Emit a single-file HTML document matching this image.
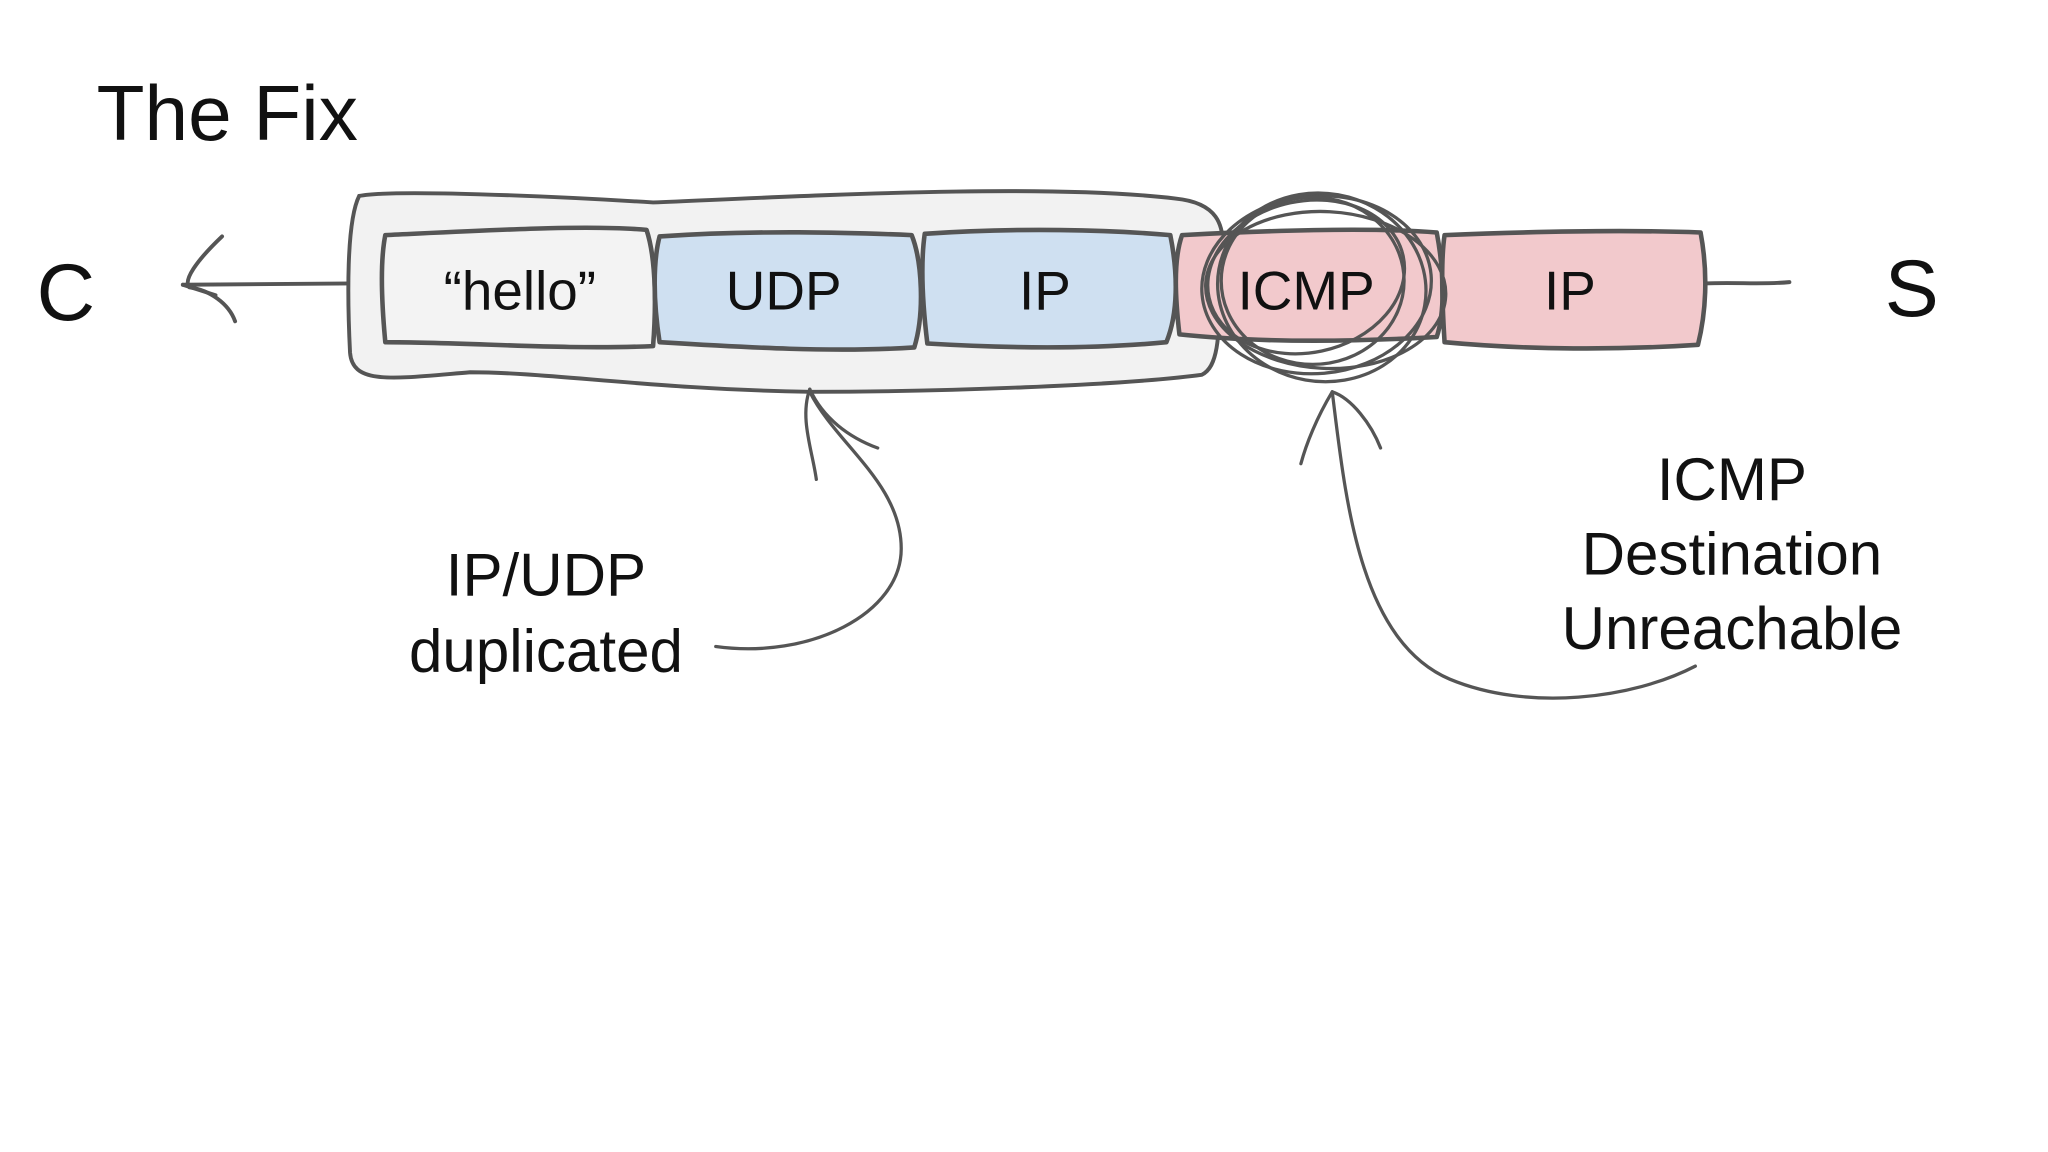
<!DOCTYPE html>
<html><head><meta charset="utf-8"><style>
html,body{margin:0;padding:0;background:#fff;}
svg{display:block}
text{font-family:"Liberation Sans",Arial,sans-serif;fill:#111}
</style></head><body>
<svg width="2048" height="1152" viewBox="0 0 1568 882" xmlns="http://www.w3.org/2000/svg" font-family="Liberation Sans, Arial, sans-serif">
<rect width="1568" height="882" fill="#fff"/>
<text x="74" y="107" font-size="60">The Fix</text>
<text x="28" y="245" font-size="62">C</text>
<text x="1443" y="242" font-size="62">S</text>
<g fill="none" stroke="#555" stroke-width="3" stroke-linecap="round" stroke-linejoin="round">
<path d="M140,218 L270,217"/>
<path d="M170,181 C150,200 140,215 145,220 C160,222 175,232 180,246"/>
<path d="M140,218 L165,226"/>
<path d="M1305,217 C1330,216 1350,218 1370,216"/>
</g>
<path d="M275,150 C300,145 420,150 500,155 C620,150 800,140 900,152 C930,155 940,170 935,200 C933,250 935,280 920,287 C860,295 720,300 620,300 C500,298 420,285 360,285 C300,290 270,295 268,270 C266,230 265,170 275,150 Z" fill="#f2f2f2" stroke="#555" stroke-width="3"/>
<g stroke="#555" stroke-width="3.5" stroke-linejoin="round">
<path d="M295,180 C380,176 450,172 495,176 C503,200 502,240 500,265 C430,268 360,262 295,262 C292,230 291,200 295,180 Z" fill="#f3f3f3"/>
<path d="M505,181 C580,176 650,178 698,180 C706,200 708,240 700,266 C640,270 570,266 505,262 C500,230 500,200 505,181 Z" fill="#cfe0f1"/>
<path d="M708,179 C780,174 850,176 896,180 C902,210 902,240 893,262 C830,268 760,266 710,263 C706,230 705,200 708,179 Z" fill="#cfe0f1"/>
<path d="M905,180 C980,176 1050,174 1100,178 C1106,210 1106,240 1100,258 C1030,262 960,262 903,256 C900,230 898,200 905,180 Z" fill="#f2c9cc"/>
<path d="M1106,180 C1180,177 1250,176 1302,178 C1308,210 1306,240 1300,264 C1240,268 1170,268 1106,262 C1104,230 1103,200 1106,180 Z" fill="#f2c9cc"/>
</g>
<g fill="none" stroke="#555" stroke-width="2.5">
<ellipse cx="1008" cy="218" rx="88" ry="68" transform="rotate(-5 1008 218)"/>
<ellipse cx="1012" cy="220" rx="80" ry="72" transform="rotate(10 1012 220)"/>
<ellipse cx="1005" cy="215" rx="70" ry="64"/>
<ellipse cx="1015" cy="222" rx="92" ry="60" transform="rotate(3 1015 222)"/>
<ellipse cx="1000" cy="212" rx="76" ry="58" transform="rotate(-12 1000 212)"/>
</g>
<text x="398" y="237" font-size="42" text-anchor="middle">“hello”</text>
<text x="600" y="237" font-size="42" text-anchor="middle">UDP</text>
<text x="800" y="237" font-size="42" text-anchor="middle">IP</text>
<text x="1000" y="237" font-size="42" text-anchor="middle">ICMP</text>
<text x="1202" y="237" font-size="42" text-anchor="middle">IP</text>
<g fill="none" stroke="#555" stroke-width="2.5" stroke-linecap="round">
<path d="M548,495 C620,505 690,470 690,420 C690,370 640,340 620,300"/>
<path d="M620,298 C612,320 622,345 625,367"/>
<path d="M620,298 C630,320 650,335 672,343"/>
<path d="M1298,510 C1250,535 1170,545 1110,520 C1040,490 1030,380 1020,300"/>
<path d="M1020,300 C1008,320 1000,340 996,355"/>
<path d="M1020,300 C1035,305 1050,325 1057,343"/>
</g>
<text x="418" y="456" font-size="46" text-anchor="middle">IP/UDP</text>
<text x="418" y="514" font-size="46" text-anchor="middle">duplicated</text>
<text x="1326" y="383" font-size="46" text-anchor="middle">ICMP</text>
<text x="1326" y="440" font-size="46" text-anchor="middle">Destination</text>
<text x="1326" y="497" font-size="46" text-anchor="middle">Unreachable</text>
</svg>
</body></html>
